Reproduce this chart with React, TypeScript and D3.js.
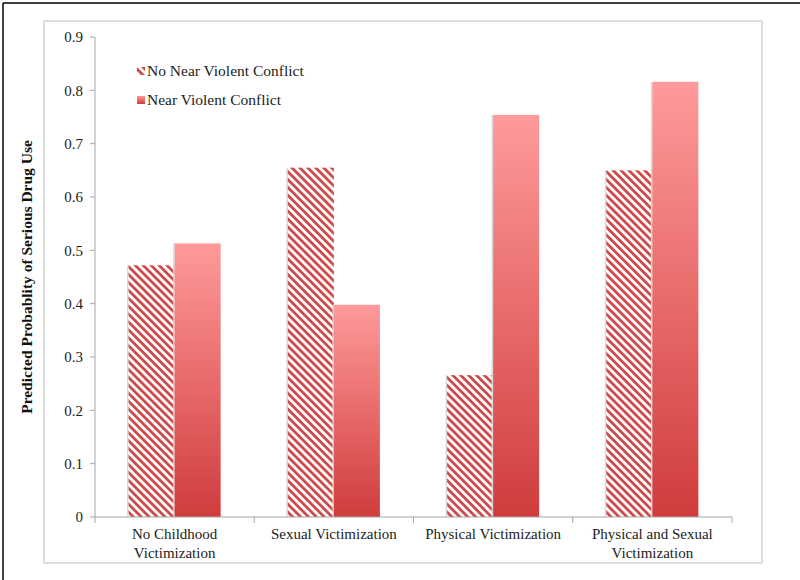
import React from "react";
import * as d3 from "d3";

const categories = [
  ["No Childhood", "Victimization"],
  ["Sexual Victimization"],
  ["Physical Victimization"],
  ["Physical and Sexual", "Victimization"],
];
const seriesNames = ["No Near Violent Conflict", "Near Violent Conflict"];
const noNearConflict = [0.472, 0.655, 0.266, 0.65];
const nearConflict = [0.513, 0.398, 0.754, 0.816];
const yTicks = [0, 0.1, 0.2, 0.3, 0.4, 0.5, 0.6, 0.7, 0.8, 0.9];

const App = () => {
  const margin = { top: 37, right: 68, bottom: 63, left: 95 };
  const width = 800;
  const height = 580;
  const innerW = width - margin.left - margin.right;
  const innerH = height - margin.top - margin.bottom;

  const x0 = d3
    .scaleBand()
    .domain(categories.map((c) => c.join(" ")))
    .range([0, innerW])
    .padding(0);
  const x1 = d3
    .scaleBand()
    .domain(seriesNames)
    .range([0, x0.bandwidth()])
    .paddingInner(0)
    .paddingOuter(0.73);
  const y = d3.scaleLinear().domain([0, 0.9]).range([innerH, 0]);

  const values = [noNearConflict, nearConflict];
  const font = "'Liberation Serif', 'Times New Roman', serif";
  const axisColor = "#a6a6a6";

  return (
    <svg
      width={width}
      height={height}
      style={{ position: "absolute", left: 0, top: 0, background: "#fff" }}
      fontFamily={font}
    >
      <defs>
        <pattern
          id="hatch"
          patternUnits="userSpaceOnUse"
          width="5.6"
          height="5.6"
          patternTransform="rotate(-45)"
        >
          <rect width="5.6" height="5.6" fill="#fff" />
          <line x1="1.4" y1="0" x2="1.4" y2="5.6" stroke="#cf4a4a" strokeWidth="2.8" />
        </pattern>
        <linearGradient id="grad" x1="0" y1="0" x2="0" y2="1">
          <stop offset="0" stopColor="#ff9a9a" />
          <stop offset="1" stopColor="#d03c3c" />
        </linearGradient>
      </defs>

      {/* outer frames */}
      <line x1={3} y1={3} x2={800} y2={3} stroke="#000" strokeWidth={1.5} />
      <line x1={3} y1={3} x2={3} y2={580} stroke="#000" strokeWidth={1.5} />
      <rect x={44} y={21} width={718} height={542} fill="none" stroke="#bdbdbd" strokeWidth={1} />

      <g transform={`translate(${margin.left},${margin.top})`}>
        {/* bars */}
        {categories.map((c, i) => {
          const key = c.join(" ");
          return (
            <g key={key} transform={`translate(${x0(key)},0)`}>
              {seriesNames.map((s, j) => {
                const v = values[j][i];
                return (
                  <g key={s}>
                    <rect
                      x={(x1(s) as number) - 1.5}
                      y={y(v)}
                      width={1.5}
                      height={innerH - y(v)}
                      fill="#d8d8d8"
                    />
                    <rect
                      x={x1(s)}
                      y={y(v)}
                      width={x1.bandwidth()}
                      height={innerH - y(v)}
                      fill={j === 0 ? "url(#hatch)" : "url(#grad)"}
                    />
                  </g>
                );
              })}
            </g>
          );
        })}

        {/* y axis */}
        <line x1={0} y1={0} x2={0} y2={innerH} stroke={axisColor} />
        {yTicks.map((t) => (
          <g key={t} transform={`translate(0,${y(t)})`}>
            <line x1={-5} x2={0} stroke={axisColor} />
            <text x={-12} dy="0.35em" textAnchor="end" fontSize={15} fill="#222">
              {t === 0 ? "0" : t.toFixed(1)}
            </text>
          </g>
        ))}

        {/* x axis */}
        <line x1={0} y1={innerH} x2={innerW} y2={innerH} stroke={axisColor} />
        {categories.map((c, i) => {
          const key = c.join(" ");
          const start = x0(key) as number;
          return (
            <g key={key}>
              <line
                x1={start + x0.bandwidth()}
                x2={start + x0.bandwidth()}
                y1={innerH}
                y2={innerH + 6}
                stroke={axisColor}
              />
              {c.map((line, k) => (
                <text
                  key={k}
                  x={start + x0.bandwidth() / 2}
                  y={innerH + 22 + k * 19}
                  textAnchor="middle"
                  fontSize={15}
                  fill="#222"
                >
                  {line}
                </text>
              ))}
            </g>
          );
        })}
        <line x1={0} x2={0} y1={innerH} y2={innerH + 6} stroke={axisColor} />

        {/* y label */}
        <text
          transform={`translate(-63,${innerH / 2}) rotate(-90)`}
          textAnchor="middle"
          fontSize={15.5}
          fontWeight="bold"
          fill="#111"
        >
          Predicted Probablity of Serious Drug Use
        </text>

        {/* legend */}
        {seriesNames.map((s, j) => (
          <g key={s} transform={`translate(42,${34 + j * 29})`}>
            <rect x={0} y={-4} width={8} height={8} fill={j === 0 ? "url(#hatch)" : "url(#grad)"} />
            <text x={10} dy="0.35em" fontSize={15.5} fill="#222">
              {s}
            </text>
          </g>
        ))}
      </g>
    </svg>
  );
};

export default App;
